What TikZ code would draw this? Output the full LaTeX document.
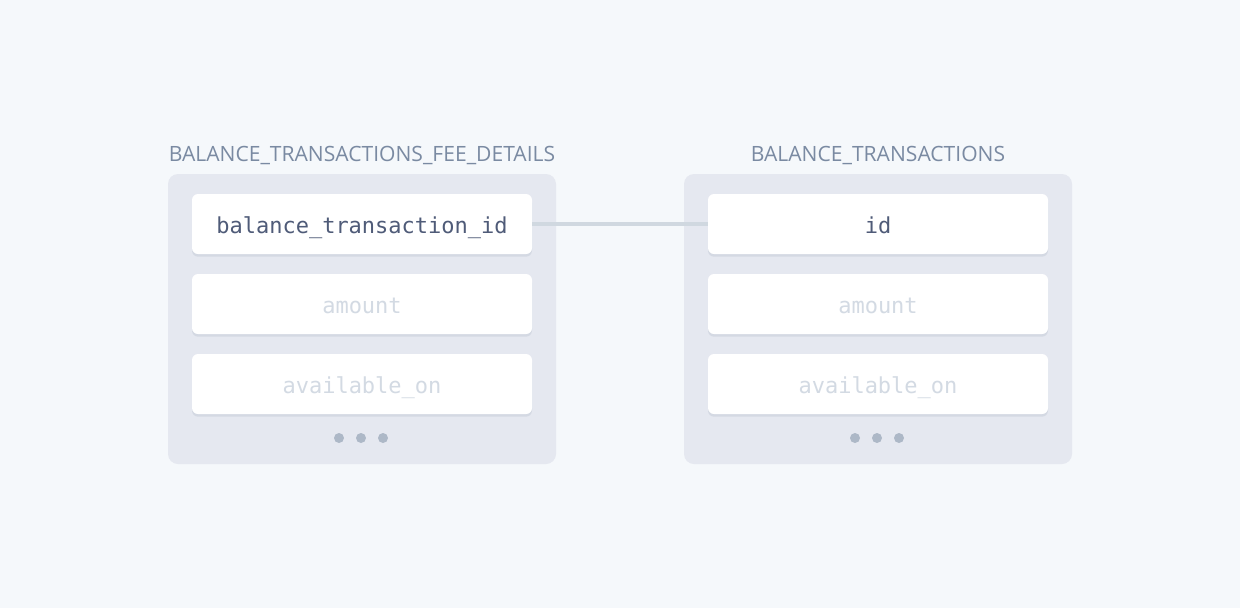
\documentclass[tikz,border=0pt]{standalone}
\usepackage{fontspec}
\setmainfont{Open Sans}
\setmonofont{DejaVu Sans Mono}
\usepackage{tikz}
\usetikzlibrary{shadows}

\definecolor{bgcol}{HTML}{F5F8FB}
\definecolor{panelcol}{HTML}{E5E8F0}
\definecolor{titlecol}{HTML}{7A8AA2}
\definecolor{keycol}{HTML}{4F5B78}
\definecolor{fadecol}{HTML}{D3DAE3}
\definecolor{dotcol}{HTML}{ADB8C7}
\definecolor{linkcol}{HTML}{D0D8E0}

\tikzset{
  panel/.style={fill=panelcol, rounded corners=7.5pt},
  field/.style={fill=white, rounded corners=4.5pt, minimum width=255pt, minimum height=45pt,
    inner sep=0pt, text height=15pt, text depth=1pt,
    font=\ttfamily\fontsize{16.5}{18}\selectfont,
    drop shadow={shadow xshift=0pt, shadow yshift=-2pt, fill=dotcol, opacity=0.3}},
  faded/.style={field, text=fadecol},
  tabletitle/.style={text=titlecol, anchor=base, font=\fontsize{15.8}{18}\selectfont},
  moredot/.style={fill=dotcol}
}

\begin{document}
\begin{tikzpicture}[x=0.75pt, y=-0.75pt]
  \fill[bgcol] (0,0) rectangle (1240,608);
  \useasboundingbox (0,0) rectangle (1240,608);

  % left table
  \fill[panel] (168,174) rectangle (556,464);
  \node[tabletitle] (ltitle) at (362,161) {BALANCE\_TRANSACTIONS\_FEE\_DETAILS};
  \node[field, text=keycol] (lkey) at (362,224) {balance\_transaction\_id};
  \node[faded] (lamount) at (362,304) {amount};
  \node[faded] (lavail) at (362,384) {available\_on};
  \foreach \x in {339,361,383}
    \fill[moredot] (\x,438) circle (3.75pt);

  % right table
  \fill[panel] (684,174) rectangle (1072,464);
  \node[tabletitle] (rtitle) at (878,161) {BALANCE\_TRANSACTIONS};
  \node[field, text=keycol] (rkey) at (878,224) {id};
  \node[faded] (ramount) at (878,304) {amount};
  \node[faded] (ravail) at (878,384) {available\_on};
  \foreach \x in {855,877,899}
    \fill[moredot] (\x,438) circle (3.75pt);

  % join
  \draw[linkcol, line width=2.5pt] (lkey.east) -- (rkey.west);
\end{tikzpicture}
\end{document}
